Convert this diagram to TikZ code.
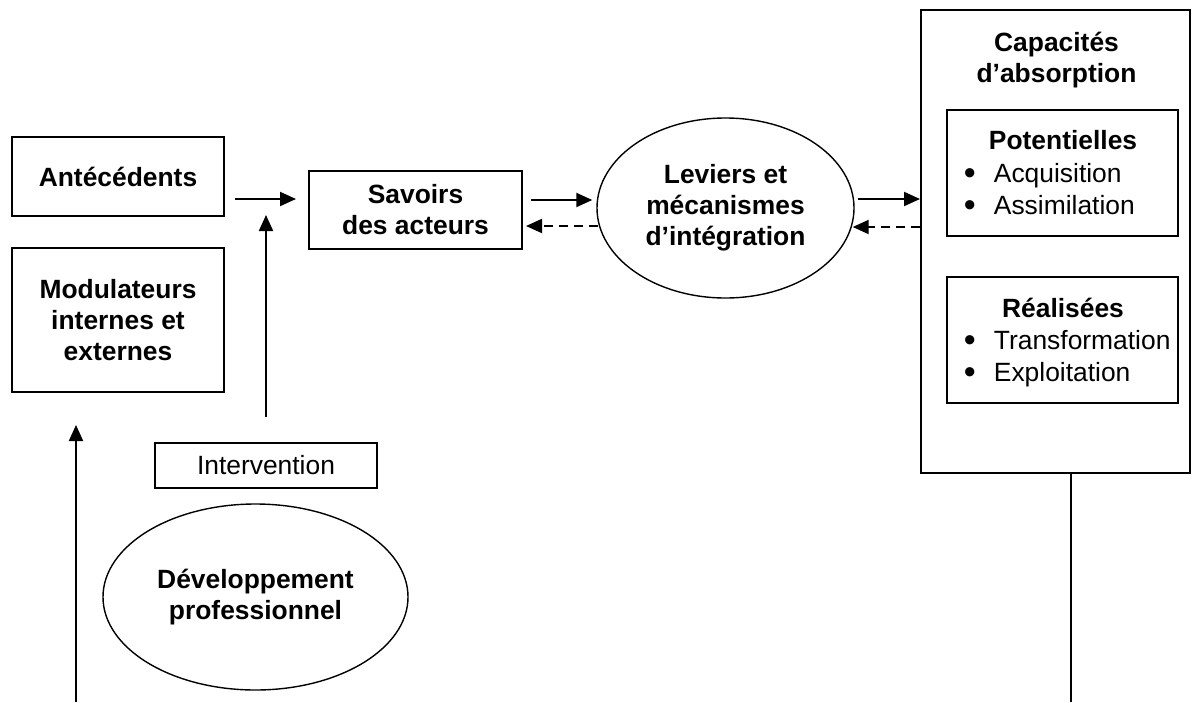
\documentclass[tikz,border=0pt]{standalone}
\usepackage{fontspec}
\setmainfont{Liberation Sans}
\usetikzlibrary{arrows.meta,shapes.geometric,calc}
\newcommand{\bulletmark}{\makebox[15pt][l]{\fontsize{17}{17}\selectfont\raisebox{-1.3pt}{\textbullet}}}
\begin{document}
\begin{tikzpicture}[x=0.5pt,y=-0.5pt,
  txt/.style={font=\fontsize{13.2}{15.5}\selectfont},
  bold/.style={font=\bfseries\fontsize{13.2}{15.5}\selectfont},
  boxnode/.style={draw,line width=1pt,inner sep=0pt,align=center,bold},
  ovalnode/.style={draw,ellipse,line width=0.7pt,inner sep=0pt,align=center,bold},
  itemnode/.style={anchor=base west,inner sep=0pt,txt},
  arr/.style={line width=1pt,-{Triangle[length=8pt,width=7pt]}},
  darr/.style={arr,dash pattern=on 4.5pt off 3pt},
  plain/.style={line width=1pt}]
\useasboundingbox (0,0) rectangle (1192,702);

% left column
\node[boxnode,minimum width=106pt,minimum height=39.5pt] (ant) at (118,176.5) {Antécédents};
\node[boxnode,minimum width=106pt,minimum height=72pt] (mod) at (118,320) {Modulateurs\\internes et\\externes};

% knowledge of the actors
\node[boxnode,minimum width=106.5pt,minimum height=39pt] (sav) at (415.5,210) {Savoirs\\des acteurs};

% integration levers
\node[ovalnode,minimum width=128.5pt,minimum height=90pt] (lev) at (725.5,208) {Leviers et\\mécanismes\\d’intégration};

% absorptive capacities
\node[draw,line width=1pt,minimum width=134.5pt,minimum height=231.5pt,inner sep=0pt] (cap) at (1055.5,241.5) {};
\node[bold,align=center] (captitle) at (1056.5,60) {Capacités\\d’absorption};

\node[draw,line width=1pt,minimum width=115.5pt,minimum height=63pt,inner sep=0pt] (pot) at (1062.5,173) {};
\node[bold,anchor=base,inner sep=0pt] (pothead) at (1063,149) {Potentielles};
\node[itemnode] (acq) at (963.5,182) {\bulletmark Acquisition};
\node[itemnode] (ass) at (963.5,214) {\bulletmark Assimilation};

\node[draw,line width=1pt,minimum width=115.5pt,minimum height=63pt,inner sep=0pt] (rea) at (1062.5,340) {};
\node[bold,anchor=base,inner sep=0pt] (reahead) at (1063,317) {Réalisées};
\node[itemnode] (tra) at (963.5,349) {\bulletmark Transformation};
\node[itemnode] (exp) at (963.5,381) {\bulletmark Exploitation};

% intervention and professional development
\node[draw,line width=0.8pt,minimum width=111pt,minimum height=22.5pt,inner sep=0pt,txt] (int) at (266,465.5) {Intervention};
\node[ovalnode,minimum width=152.5pt,minimum height=93pt] (dev) at (255.5,597) {Développement\\professionnel};

% free ends of connectors
\coordinate (join) at (266,215);
\coordinate (leftfoot) at (76,702);
\coordinate (lefttip) at (76,425);
\coordinate (rightfoot) at (1071,702);

% connectors
\draw[arr] ($(ant.east)+(10,22.5)$) -- ($(sav.west)+(-12,-11)$);
\draw[arr] ($(int.north)+(0,-25)$) -- (join);
\draw[arr] (leftfoot) -- (lefttip);
\draw[arr] ($(sav.east)+(8,-10)$) -- ($(lev.west)+(-4,-8)$);
\draw[darr] ($(lev.west)+(2,18)$) -- ($(sav.east)+(3,16)$);
\draw[arr] ($(lev.east)+(3,-9)$) -- ($(cap.west)+(0,-42.5)$);
\draw[darr] ($(cap.west)+(0,-14.5)$) -- ($(lev.east)+(-2,19)$);
\draw[plain] ($(cap.south)+(15.5,0)$) -- (rightfoot);
\end{tikzpicture}
\end{document}
